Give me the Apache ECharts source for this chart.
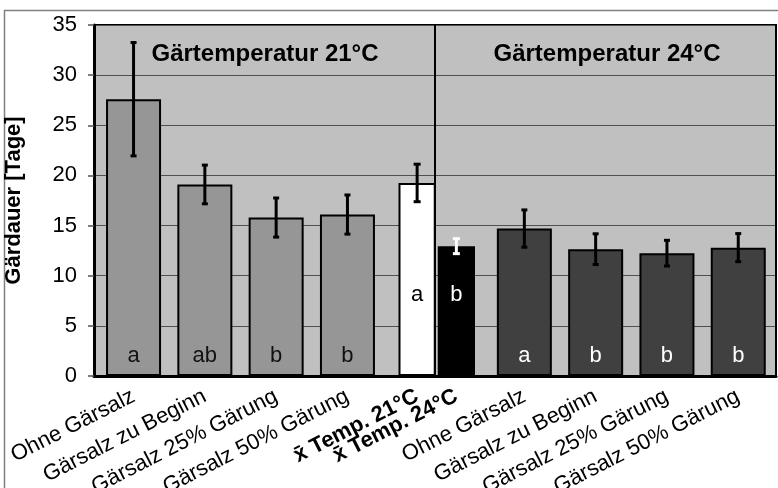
<!DOCTYPE html>
<html>
<head>
<meta charset="utf-8">
<script src="https://cdn.jsdelivr.net/npm/echarts@6/dist/echarts.min.js"></script>
<style>html,body{margin:0;padding:0;background:#fff;}#c{width:778px;height:488px;}</style>
</head>
<body>
<div id="c"></div>
<script>
// ---- data ----
const catsLeft = ['Ohne Gärsalz', 'Gärsalz zu Beginn', 'Gärsalz 25% Gärung', 'Gärsalz 50% Gärung'];
const means21 = [27.6, 19.1, 15.8, 16.1];
const err21 = [5.65, 1.93, 1.95, 1.95];
const letters21 = ['a', 'ab', 'b', 'b'];

const catsMean = ['x\u0304 Temp. 21°C', 'x\u0304 Temp. 24°C'];
const meanValues = [19.25, 12.95];
const meanErr = [1.87, 0.75];
const meanLetters = ['a', 'b'];

const catsRight = ['Ohne Gärsalz', 'Gärsalz zu Beginn', 'Gärsalz 25% Gärung', 'Gärsalz 50% Gärung'];
const means24 = [14.7, 12.65, 12.25, 12.8];
const err24 = [1.86, 1.53, 1.28, 1.4];
const letters24 = ['a', 'b', 'b', 'b'];

const yTicks = { min: 0, max: 35, interval: 5 };
const headers = ['Gärtemperatur 21°C', 'Gärtemperatur 24°C'];
const yTitle = 'Gärdauer [Tage]';

// ---- chart ----
const FONT = "'Liberation Sans', Arial, sans-serif";
const chart = echarts.init(document.getElementById('c'), null, { renderer: 'canvas' });

function errData(m, e) { return m.map((v, i) => [i, v - e[i], v + e[i]]); }
function errSeries(idx, data, colorFn, capHalf) {
  return {
    type: 'custom', xAxisIndex: idx, yAxisIndex: idx, z: 5,
    data: data, encode: { x: 0, y: [1, 2] }, silent: true,
    renderItem: function (params, api) {
      const lo = api.coord([api.value(0), api.value(1)]);
      const hi = api.coord([api.value(0), api.value(2)]);
      const st = { stroke: colorFn(params.dataIndex), lineWidth: 3 };
      return {
        type: 'group', children: [
          { type: 'line', shape: { x1: lo[0], y1: lo[1], x2: hi[0], y2: hi[1] }, style: st },
          { type: 'line', shape: { x1: hi[0] - capHalf, y1: hi[1], x2: hi[0] + capHalf, y2: hi[1] }, style: st },
          { type: 'line', shape: { x1: lo[0] - capHalf, y1: lo[1], x2: lo[0] + capHalf, y2: lo[1] }, style: st }
        ]
      };
    }
  };
}

const catLabel = { interval: 0, rotate: 27, fontSize: 22, color: '#000', margin: 19, padding: [26, 0, 0, 0], fontFamily: FONT };
const hiddenY = (i) => ({ gridIndex: i, type: 'value', min: yTicks.min, max: yTicks.max, show: false });
const catX = (i, data, extra) => ({
  gridIndex: i, type: 'category', data: data,
  axisLine: { show: false }, axisTick: { show: false }, splitLine: { show: false },
  axisLabel: Object.assign({}, catLabel, extra || {})
});
const G = { top: 25, bottom: 112, outerBoundsMode: 'none', containLabel: false };

const option = {
  animation: false,
  textStyle: { fontFamily: FONT },
  grid: [
    Object.assign({ left: 94, right: 2, show: true, backgroundColor: '#c0c0c0', borderColor: '#000', borderWidth: 2 }, G),
    Object.assign({ left: 97.9, width: 285.2 }, G),
    Object.assign({ left: 397.5, width: 78.5 }, G),
    Object.assign({ left: 488.7, width: 285.2 }, G)
  ],
  xAxis: [
    { gridIndex: 0, type: 'value', min: 0, max: 2, interval: 1,
      axisLabel: { show: false }, axisTick: { show: false },
      axisLine: { show: true, lineStyle: { color: '#000', width: 3 } },
      splitLine: { show: true, lineStyle: { color: '#000', width: 2 } } },
    catX(1, catsLeft),
    catX(2, catsMean, { fontWeight: 'bold' }),
    catX(3, catsRight)
  ],
  yAxis: [
    { gridIndex: 0, type: 'value', min: yTicks.min, max: yTicks.max, interval: yTicks.interval,
      name: yTitle, nameLocation: 'middle', nameGap: 69,
      nameTextStyle: { fontSize: 22, fontWeight: 'bold', color: '#000', fontFamily: FONT },
      axisLine: { show: true, lineStyle: { color: '#000', width: 3 } },
      axisTick: { show: true, length: 6, lineStyle: { color: '#555', width: 1.5 } },
      axisLabel: { fontSize: 22, color: '#000', margin: 17, fontFamily: FONT, padding: [4, 0, 0, 0] },
      splitLine: { show: true, lineStyle: { color: '#505050', width: 1.2 } } },
    hiddenY(1), hiddenY(2), hiddenY(3)
  ],
  series: [
    { type: 'bar', xAxisIndex: 1, yAxisIndex: 1, data: means21, barWidth: 55,
      itemStyle: { color: '#969696', borderColor: '#000', borderWidth: 2 },
      label: { show: true, position: 'insideBottom', distance: 9, fontSize: 22, color: '#111',
        formatter: (p) => letters21[p.dataIndex] } },
    { type: 'bar', xAxisIndex: 2, yAxisIndex: 2, barWidth: 37.25,
      data: meanValues.map((v, i) => ({
        value: v,
        itemStyle: { color: i === 0 ? '#ffffff' : '#000000' },
        label: { color: i === 0 ? '#000' : '#fff' }
      })),
      itemStyle: { borderColor: '#000', borderWidth: 2 },
      label: { show: true, position: 'insideBottom', distance: 70, fontSize: 22,
        formatter: (p) => meanLetters[p.dataIndex] } },
    { type: 'bar', xAxisIndex: 3, yAxisIndex: 3, data: means24, barWidth: 55,
      itemStyle: { color: '#404040', borderColor: '#000', borderWidth: 2 },
      label: { show: true, position: 'insideBottom', distance: 9, fontSize: 22, color: '#fff',
        formatter: (p) => letters24[p.dataIndex] } },
    errSeries(1, errData(means21, err21), () => '#000', 3),
    errSeries(2, errData(meanValues, meanErr), (i) => (i === 0 ? '#000' : '#fff'), 3.5),
    errSeries(3, errData(means24, err24), () => '#000', 3)
  ],
  graphic: [
    { type: 'rect', silent: true, z: 0, shape: { x: 4.5, y: 10.5, width: 800, height: 500 },
      style: { fill: null, stroke: '#808080', lineWidth: 1.5 } },
    { type: 'text', z: 10, x: 265, y: 54, style: { text: headers[0], font: "bold 24px " + FONT, fill: '#000', align: 'center', verticalAlign: 'middle' } },
    { type: 'text', z: 10, x: 607, y: 54, style: { text: headers[1], font: "bold 24px " + FONT, fill: '#000', align: 'center', verticalAlign: 'middle' } }
  ]
};
chart.setOption(option);
</script>
</body>
</html>
